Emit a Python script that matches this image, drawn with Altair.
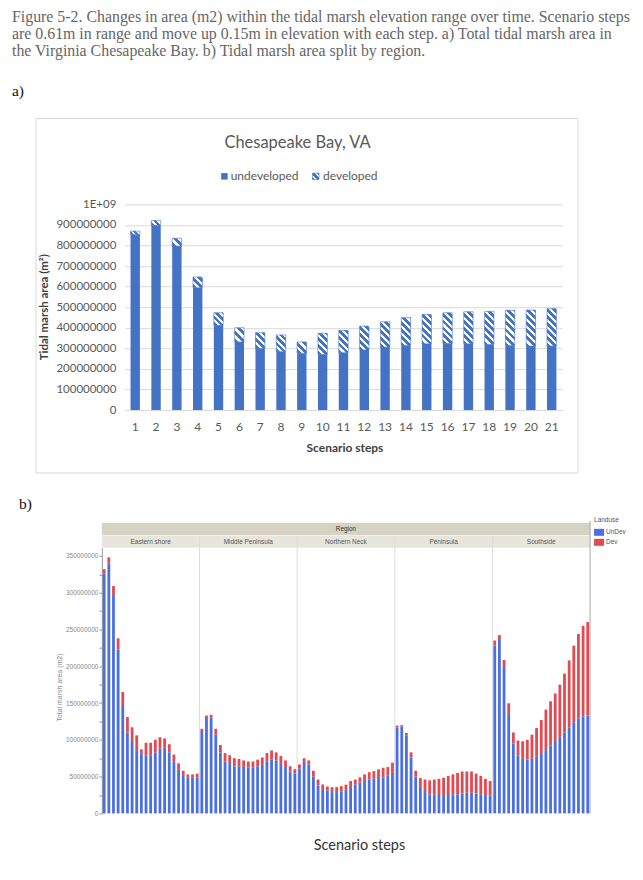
import altair as alt
import pandas as pd

# ----------------------------- data -----------------------------
steps = list(range(1, 22))

# a) Chesapeake Bay, VA  (millions of m2)
a_undeveloped = [854, 898, 797, 595, 412, 331, 300, 284, 276, 271, 279, 292, 306, 314, 322, 324, 322, 319, 314, 311, 311]
a_developed = [16, 24, 38, 52, 61, 69, 76, 81, 55, 102, 108, 116, 123, 135, 143, 149, 156, 161, 171, 175, 182]
a_series = ["undeveloped", "developed"]
a_y_ticks = [0, 100000000, 200000000, 300000000, 400000000, 500000000,
             600000000, 700000000, 800000000, 900000000, 1000000000]

# b) split by region (millions of m2)
regions = ["Eastern shore", "Middle Peninsula", "Northern Neck", "Peninsula", "Southside"]
landuse = ["UnDev", "Dev"]
es_undev = [326, 340, 297, 223, 146, 110, 97, 86, 81, 79, 79, 83, 88, 90, 83, 70, 60, 52, 49, 49, 49]
es_dev = [6, 8, 12, 15, 19, 21, 20, 20, 6, 17, 17, 17, 15.5, 12, 11, 10, 8, 6, 4, 4, 5]
mp_undev = [112, 131, 130, 107, 83, 70.5, 67, 64, 64, 63, 62, 62, 64, 66, 70, 73, 72, 67, 63, 57, 54]
mp_dev = [3, 2, 4, 8, 10, 11.5, 12, 11, 10, 9, 8.5, 8.5, 9, 10, 12, 12.5, 11, 11, 9, 7, 6]
nn_undev = [61, 71, 66.5, 50, 38, 33, 31, 29, 29, 30, 32, 36, 39, 42, 44, 46, 47, 48, 49, 51, 55]
nn_dev = [5.5, 4, 5.5, 8, 8, 6.3, 5.6, 6.7, 6.7, 7, 7, 8, 7, 7, 9, 10, 10.5, 12, 13, 12, 14]
pe_undev = [117, 118, 106, 76, 50, 36, 29, 26, 26, 25, 25, 25, 26, 26, 27, 28, 28, 27, 26, 25, 24]
pe_dev = [2.4, 2, 3.5, 7, 8, 12, 17, 19, 20, 22, 23.5, 26, 27, 29, 30, 29, 29, 27, 25, 22, 20]
ss_undev = [228, 237, 199, 135, 95, 79, 74, 73, 74, 77, 82, 86, 92, 97, 104, 110, 117, 124, 129, 132, 133]
ss_dev = [7, 5.4, 9.5, 14.7, 15, 20, 24, 27, 33, 39, 45, 55, 60.4, 66, 71, 80, 91, 104, 115, 123, 127]
b_y_ticks = [0, 25000000, 50000000, 75000000, 100000000, 125000000, 150000000, 175000000,
             200000000, 225000000, 250000000, 275000000, 300000000, 325000000, 350000000]

caption = [
    "Figure 5-2. Changes in area (m2) within the tidal marsh elevation range over time.  Scenario steps",
    "are 0.61m in range and move up 0.15m in elevation with each step. a) Total tidal marsh area in",
    "the Virginia Chesapeake Bay. b) Tidal marsh area split by region.",
]

M = 1000000
ONE = pd.DataFrame({"_": [0]})


def text_at(t, x, y, **kw):
    return alt.Chart(ONE).mark_text(text=t, **kw).encode(x=alt.value(x), y=alt.value(y))


def rect_at(x, x2, y, y2, **kw):
    return alt.Chart(ONE).mark_rect(**kw).encode(
        x=alt.value(x), x2=alt.value(x2), y=alt.value(y), y2=alt.value(y2))


def rule_at(x, x2, y, y2, **kw):
    return alt.Chart(ONE).mark_rule(**kw).encode(
        x=alt.value(x), x2=alt.value(x2), y=alt.value(y), y2=alt.value(y2))


# ----------------------------- chart a -----------------------------
WA, HA = 438, 206
PI_A = 0.55
BLUE_A = "#4472c4"
GREY_TXT = "#595959"
bw_a = WA / 21 * (1 - PI_A)


def hatch(h_px, w=bw_a, period=7.0):
    h_px = max(h_px, 0.5)
    r = h_px / w
    n = max(1, int(round((w * w + h_px * h_px) / (w * period))))
    stops = []
    for i in range(n):
        a, m, b = round(i / n, 5), round((i + 0.55) / n, 5), round((i + 1) / n, 5)
        stops += [{"offset": a, "color": BLUE_A}, {"offset": m, "color": BLUE_A},
                  {"offset": m, "color": "#ffffff"}, {"offset": b, "color": "#ffffff"}]
    return {"gradient": "linear", "x1": 0, "y1": 1, "x2": 1, "y2": round(1 - r, 5), "stops": stops}


dfa = pd.DataFrame({
    "step": steps,
    "undeveloped": [v * M for v in a_undeveloped],
    "developed": [v * M for v in a_developed],
})

xa = alt.X("step:O", title=None,
           scale=alt.Scale(paddingInner=PI_A, paddingOuter=PI_A / 2),
           axis=alt.Axis(labelAngle=0, labelFont="Lato", labelFontSize=12, labelColor=GREY_TXT,
                         ticks=False, domain=False, labelPadding=12))
ya = alt.Y("undeveloped:Q", title=None,
           scale=alt.Scale(domain=[0, 1000000000], nice=False),
           axis=alt.Axis(values=a_y_ticks,
                         labelExpr="datum.value >= 1000000000 ? '1E+09' : format(datum.value, 'd')",
                         grid=True, gridColor="#d9d9d9", gridWidth=1, domain=False, ticks=False,
                         labelPadding=9, labelFont="Lato", labelFontSize=11.5, labelColor=GREY_TXT))

conds = [{"test": f"datum.step === {s}", "value": hatch(d * M * HA / 1e9)}
         for s, d in zip(steps, a_developed)]
fill_dev = alt.value(hatch(20), condition=conds)

frame_a = rect_at(-89, 454, -86, 269, fill="white", fillOpacity=0, stroke="#d9d9d9", strokeWidth=1)
anchor = rect_at(-117, -116, -195.3, -194.3, opacity=0)
bars_u = alt.Chart(dfa).mark_bar(color=BLUE_A).encode(x=xa, y=ya)
bars_d = (alt.Chart(dfa)
          .transform_calculate(total="datum.undeveloped + datum.developed")
          .mark_bar(stroke=BLUE_A, strokeWidth=0.6)
          .encode(x=xa, y=ya, y2=alt.Y2("total:Q"), fill=fill_dev))

icon_hatch = {"gradient": "linear", "x1": 0, "y1": 1, "x2": 1, "y2": 0,
              "stops": [{"offset": 0, "color": BLUE_A}, {"offset": 0.18, "color": BLUE_A},
                        {"offset": 0.18, "color": "#ffffff"}, {"offset": 0.36, "color": "#ffffff"},
                        {"offset": 0.36, "color": BLUE_A}, {"offset": 0.64, "color": BLUE_A},
                        {"offset": 0.64, "color": "#ffffff"}, {"offset": 0.82, "color": "#ffffff"},
                        {"offset": 0.82, "color": BLUE_A}, {"offset": 1, "color": BLUE_A}]}

CAP_FONT = dict(align="left", font="Liberation Serif", fontSize=15.9, color="#666666")
deco_a = [
    text_at("Chesapeake Bay, VA", 173, -61.3, font="Lato", fontSize=16.5, color=GREY_TXT),
    rect_at(96.5, 103, -31.3, -24.8, fill=BLUE_A),
    text_at(a_series[0], 106, -28.3, align="left", font="Lato", fontSize=12, color=GREY_TXT),
    rect_at(188, 194.5, -31.3, -24.8, fill=icon_hatch, stroke=BLUE_A, strokeWidth=0.6),
    text_at(a_series[1], 198.5, -28.3, align="left", font="Lato", fontSize=12, color=GREY_TXT),
    text_at("Tidal marsh area (m²)", -80, 103, angle=270, font="Lato", fontSize=11.5,
            fontWeight="bold", color="#404040"),
    text_at("Scenario steps", 220.5, 243.7, font="Lato", fontSize=12, fontWeight="bold", color="#404040"),
    text_at(caption[0], -113, -187.3, **CAP_FONT),
    text_at(caption[1], -113, -170.3, **CAP_FONT),
    text_at(caption[2], -113, -153.3, **CAP_FONT),
    text_at("a)", -113, -113.3, align="left", font="Liberation Serif", fontSize=15.5, color="#111111"),
]

chart_a = alt.layer(anchor, frame_a, bars_u, bars_d, *deco_a).properties(width=WA, height=HA)

# ----------------------------- chart b -----------------------------
WB, HB = 489, 266
PI_B = 0.4
step_b = WB / 105
rows = []
for reg, und, dev in zip(regions,
                         [es_undev, mp_undev, nn_undev, pe_undev, ss_undev],
                         [es_dev, mp_dev, nn_dev, pe_dev, ss_dev]):
    for s, u, d in zip(steps, und, dev):
        key = f"{reg}|{s}"
        rows.append({"region": reg, "key": key, "landuse": landuse[0], "ord": 0, "area": u * M})
        rows.append({"region": reg, "key": key, "landuse": landuse[1], "ord": 1, "area": d * M})
dfb = pd.DataFrame(rows)
keys = [f"{r}|{s}" for r in regions for s in steps]

xscale_b = alt.Scale(domain=keys, paddingInner=PI_B, paddingOuter=0.2)
xb = alt.X("key:N", title=None, scale=xscale_b,
           axis=alt.Axis(labelExpr="split(datum.value, '|')[1]", labelAngle=90, labelFontSize=5,
                         labelColor="#888888", labelFont="Liberation Sans", tickSize=2,
                         tickColor="#999999", domainColor="#999999", labelPadding=1,
                         labelOverlap=False))
yb = alt.Y("area:Q", title=None, stack="zero",
           scale=alt.Scale(domain=[0, 361 * M], nice=False),
           axis=alt.Axis(values=b_y_ticks,
                         labelExpr="datum.value % 50000000 === 0 ? format(datum.value, 'd') : ''",
                         labelFontSize=6.5, labelColor="#888888", labelFont="Liberation Sans",
                         tickSize=3, tickColor="#999999", domainColor="#999999", grid=False,
                         labelPadding=1))

bars_b = alt.Chart(dfb).mark_bar().encode(
    x=xb, y=yb,
    color=alt.Color("landuse:N", scale=alt.Scale(domain=landuse, range=["#4a6fe0", "#e04a50"]),
                    legend=None),
    order=alt.Order("ord:Q", sort="ascending"),
)

dfsep = pd.DataFrame({"key": [f"{r}|21" for r in regions[:-1]]})
seps = alt.Chart(dfsep).mark_rule(color="#dddddd", strokeWidth=1, xOffset=step_b / 2).encode(
    x=alt.X("key:N", scale=xscale_b, axis=None, bandPosition=0.5),
    y=alt.value(-12), y2=alt.value(HB))

dfreg = pd.DataFrame({"key": [f"{r}|11" for r in regions], "region": regions})
reg_txt = alt.Chart(dfreg).mark_text(fontSize=6.5, color="#555555", font="Liberation Sans").encode(
    x=alt.X("key:N", scale=xscale_b, axis=None, bandPosition=0.5),
    y=alt.value(-5.8), text="region:N")

deco_b = [
    rect_at(0, WB, -25, -12.5, fill="#d6d3c4"),
    rect_at(0, WB, -12, 0, fill="#e7e5dc"),
    text_at("Region", WB / 2, -18.6, fontSize=6.5, color="#333333", font="Liberation Sans"),
]
deco_b2 = [
    rule_at(WB, WB, -27, HB, color="#a8a8a8", strokeWidth=1),
    text_at("Landuse", 493, -28, align="left", fontSize=6.5, color="#555555", font="Liberation Sans"),
    rect_at(493, 503, -19, -12, fill="#4a6fe0"),
    text_at(landuse[0], 505, -15.5, align="left", fontSize=6.5, color="#555555", font="Liberation Sans"),
    rect_at(493, 503, -9, -2, fill="#e04a50"),
    text_at(landuse[1], 505, -5.5, align="left", fontSize=6.5, color="#555555", font="Liberation Sans"),
    text_at("Total marsh area (m2)", -42, 140, angle=270, fontSize=7, color="#888888",
            font="Liberation Sans"),
    text_at("Scenario steps", 258, 299, font="Lato", fontSize=14.5, color="#333333"),
    text_at("b)", -83, -44, align="left", font="Liberation Serif", fontSize=15.5, color="#111111"),
]

chart_b = alt.layer(*deco_b, seps, bars_b, reg_txt, *deco_b2).properties(width=WB, height=HB)

# ----------------------------- layout -----------------------------
# (the nested row counts as zero height in a flush layout, so the gap includes chart a's height)
spacer = rect_at(0, 1, 0, 1, opacity=0).properties(width=23, height=HA)
row1 = alt.hconcat(spacer, chart_a, spacing=0, bounds="flush")
chart = (alt.vconcat(row1, chart_b, spacing=HA + 138, bounds="flush")
         .properties(padding=0, background="white")
         .configure_view(strokeWidth=0))

chart.save("out.html", embed_options={"renderer": "svg", "actions": False})
